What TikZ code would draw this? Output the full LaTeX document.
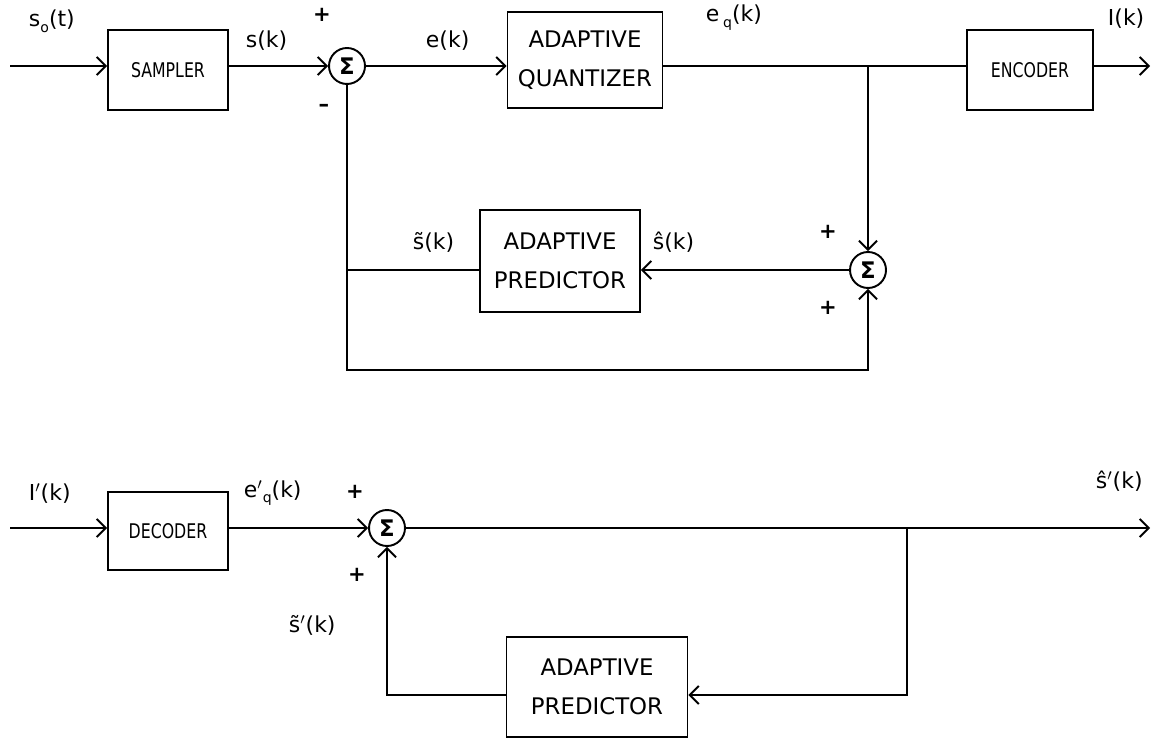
\documentclass[tikz,border=0pt]{standalone}
\usepackage{fontspec}
\setmainfont{DejaVu Sans}
\newfontfamily\narrowfont[FakeStretch=0.78]{DejaVu Sans}
\usetikzlibrary{arrows.meta,calc,positioning}

\begin{document}
\begin{tikzpicture}[
    x=0.02cm, y=-0.02cm,
    line width=1.1pt,
    sig/.style        = {-{Straight Barb[length=1.8mm,width=3.6mm,line width=1.1pt]}},
    blockbox/.style   = {draw, line width=1.1pt, align=center, inner sep=0pt,
                         font=\fontsize{13}{22}\selectfont},
    smallbox/.style   = {draw, line width=1.1pt, inner sep=0pt,
                         font=\narrowfont\fontsize{11.5}{14}\selectfont},
    summer/.style     = {draw, circle, line width=1.1pt, minimum size=0.72cm,
                         inner sep=0pt, font=\bfseries\fontsize{13}{13}\selectfont},
    lbl/.style        = {font=\fontsize{12.5}{14}\selectfont, inner sep=0pt},
    sgn/.style        = {font=\bfseries\fontsize{12}{12}\selectfont, inner sep=0pt}
  ]
\useasboundingbox (0,0) rectangle (1158,739);

% =========================================================
% ENCODER (transmitter)
% =========================================================
\coordinate (in1)  at (10,66);
\coordinate (out1) at (1150,66);
\coordinate (j1)   at (868,66);
\coordinate (b1)   at (347,370);

\node[smallbox, minimum width=2.4cm, minimum height=1.6cm] (sampler) at (168,70) {SAMPLER};
\node[summer] (sum1) at (347,66) {Σ};
\node[blockbox, minimum width=3.1cm, minimum height=1.92cm] (quant) at (585,60) {ADAPTIVE\\QUANTIZER};
\node[smallbox, minimum width=2.52cm, minimum height=1.6cm] (encoder) at (1030,70) {ENCODER};
\node[summer] (sum2) at (868,270) {Σ};
\node[blockbox, minimum width=3.2cm, minimum height=2.04cm] (pred1) at (560,261) {ADAPTIVE\\PREDICTOR};

% signal path
\draw[sig] (in1) -- (in1 -| sampler.west);
\draw[sig] (sampler.east |- sum1) -- (sum1);
\draw[sig] (sum1) -- (sum1 -| quant.west);
\draw (quant.east |- j1) -- (encoder.west |- j1);
\draw[sig] (encoder.east |- out1) -- (out1);

% prediction loop
\draw[sig] (j1) -- (sum2);
\draw[sig] (sum2) -- (sum2 -| pred1.east);
\draw (pred1.west |- sum2) -- (sum2 -| sum1);
\draw[sig] (sum1) -- (b1) -| (sum2);

% labels
\node[lbl, anchor=base west] (lso) at (28,27) {s\raisebox{-0.45ex}{\fontsize{8}{8}\selectfont o}(t)};
\node[lbl, anchor=base west] (lsk) at (245,48) {s(k)};
\node[lbl, anchor=base west] (lek) at (425,48) {e(k)};
\node[lbl, anchor=base west] (leq) at (705,22) {e\,\raisebox{-0.45ex}{\fontsize{8}{8}\selectfont q}(k)};
\node[lbl, anchor=base west] (lik) at (1107,26) {I(k)};
\node[lbl, anchor=base west] (lst) at (412,250) {\~{s}(k)};
\node[lbl, anchor=base west] (lsh) at (652,250) {\^{s}(k)};
\node[sgn] (p1) at (322,15) {+};
\node[sgn] (m1) at (324,108) {--};
\node[sgn] (p2) at (828,232) {+};
\node[sgn] (p3) at (828,308) {+};

% =========================================================
% DECODER (receiver)
% =========================================================
\coordinate (in2)  at (10,528);
\coordinate (out2) at (1150,528);
\coordinate (j2)   at (907,528);
\coordinate (c2)   at (907,695);
\coordinate (c3)   at (387,695);

\node[smallbox, minimum width=2.4cm, minimum height=1.56cm] (decoder) at (168,531) {DECODER};
\node[summer] (sum3) at (387,528) {Σ};
\node[blockbox, minimum width=3.62cm, minimum height=2.0cm] (pred2) at (597,687) {ADAPTIVE\\PREDICTOR};

\draw[sig] (in2) -- (in2 -| decoder.west);
\draw[sig] (decoder.east |- sum3) -- (sum3);
\draw[sig] (sum3) -- (out2);
\draw[sig] (j2) -- (c2) -- (c2 -| pred2.east);
\draw[sig] (pred2.west |- c2) -- (c3) -- (sum3);

\node[lbl, anchor=base west] (lip) at (28,500) {I$'$(k)};
\node[lbl, anchor=base west] (lep) at (243,497) {e$'$\raisebox{-0.45ex}{\fontsize{8}{8}\selectfont q}(k)};
\node[lbl, anchor=base west] (lsp) at (1095,488) {\^{s}$'$(k)};
\node[lbl, anchor=base west] (lsq) at (288,632) {\~{s}$'$(k)};
\node[sgn] (p4) at (355,492) {+};
\node[sgn] (p5) at (357,575) {+};

\end{tikzpicture}
\end{document}
